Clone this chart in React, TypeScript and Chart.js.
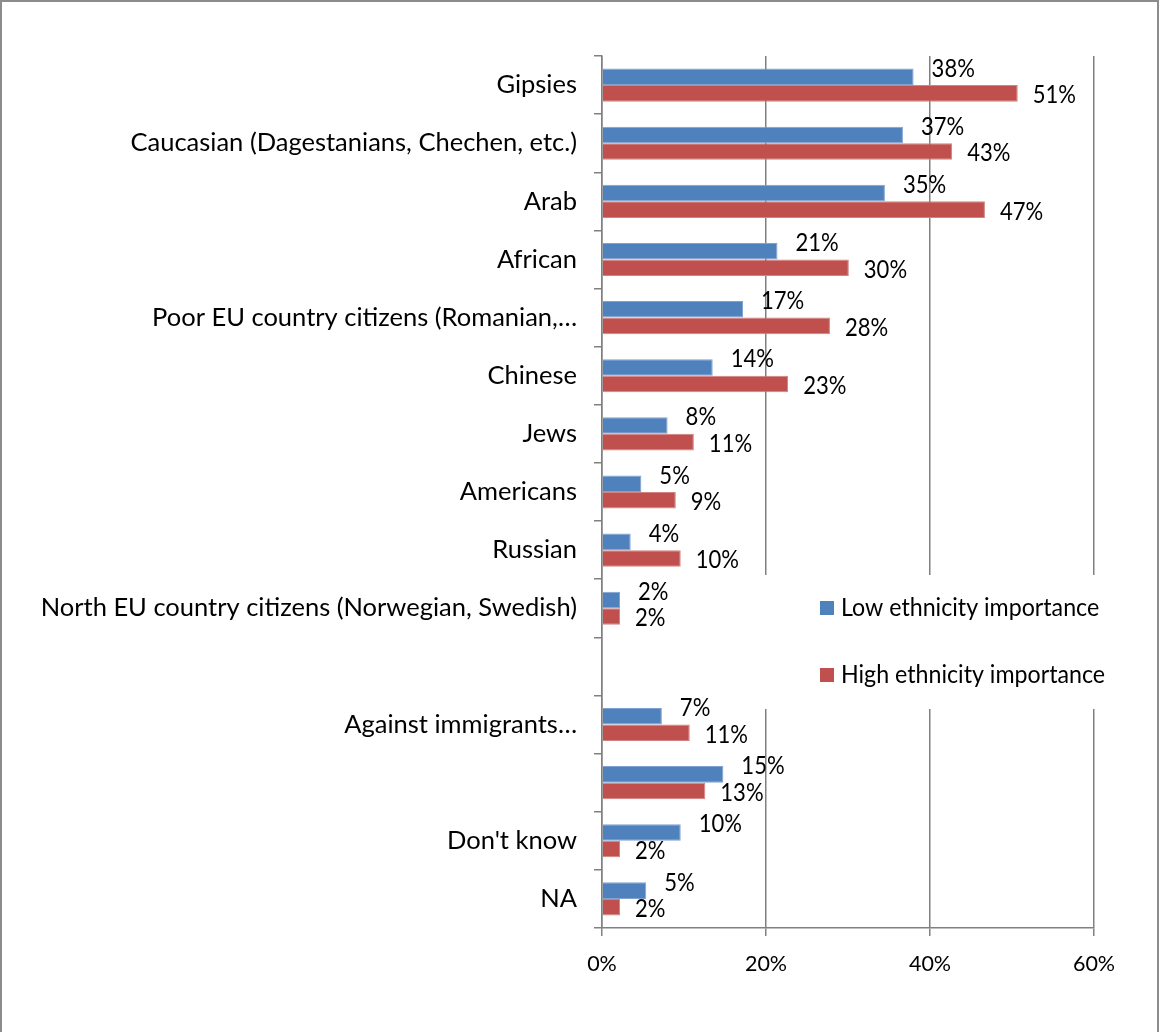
import React, { useEffect, useRef } from "react";
import { Chart, registerables } from "chart.js";

Chart.register(...registerables);

const categories = [
  "Gipsies",
  "Caucasian (Dagestanians, Chechen, etc.)",
  "Arab",
  "African",
  "Poor EU country citizens (Romanian,…",
  "Chinese",
  "Jews",
  "Americans",
  "Russian",
  "North EU country citizens (Norwegian, Swedish)",
  "",
  "Against immigrants…",
  "",
  "Don't know",
  "NA",
];

const lowImportance = [38.0, 36.7, 34.5, 21.4, 17.2, 13.5, 8.0, 4.8, 3.5, 2.2, null, 7.3, 14.8, 9.6, 5.4];
const highImportance = [50.7, 42.7, 46.7, 30.1, 27.8, 22.7, 11.2, 9.0, 9.6, 2.2, null, 10.7, 12.6, 2.2, 2.2];

const seriesNames = ["Low ethnicity importance", "High ethnicity importance"];
const seriesColors = ["#4F81BD", "#C0504D"];
const seriesBorders = ["#7FA2D0", "#D08381"];

const xTicks = [0, 20, 40, 60];

const FONT = "Lato, 'Open Sans', sans-serif";
const AXIS_GRAY = "#808080";

function narrowText(ctx: CanvasRenderingContext2D, text: string, x: number, y: number, sx: number) {
  ctx.save();
  ctx.translate(x, y);
  ctx.scale(sx, 1);
  ctx.fillText(text, 0, 0);
  ctx.restore();
}

export default function App() {
  const ref = useRef<HTMLCanvasElement | null>(null);

  useEffect(() => {
    document.body.style.margin = "0";
    const canvas = ref.current;
    if (!canvas) return;

    const labelPlugin = {
      id: "customDecor",
      beforeDatasetsDraw(chart: any) {
        const ctx = chart.ctx;
        ctx.save();
        ctx.fillStyle = "#ffffff";
        ctx.fillRect(700, 575, 420, 134);
        ctx.restore();
      },
      afterDatasetsDraw(chart: any) {
        const ctx = chart.ctx;
        ctx.save();
        ctx.font = `24.5px ${FONT}`;
        ctx.fillStyle = "#000000";
        ctx.textAlign = "left";
        ctx.textBaseline = "middle";
        chart.data.datasets.forEach((ds: any, di: number) => {
          const meta = chart.getDatasetMeta(di);
          meta.data.forEach((bar: any, i: number) => {
            const v = ds.data[i];
            if (v === null || v === undefined) return;
            const dx = di === 0 ? 18 : 15;
            const dy = di === 0 ? -8 : 2;
            narrowText(ctx, Math.round(v) + "%", bar.x + dx, bar.y + dy, 0.9);
          });
        });
        ctx.restore();
      },
      afterDraw(chart: any) {
        const ctx = chart.ctx;
        ctx.save();
        // legend
        ctx.font = `24.5px ${FONT}`;
        ctx.textAlign = "left";
        ctx.textBaseline = "middle";
        chart.data.datasets.forEach((ds: any, di: number) => {
          const y = 608 + di * 67;
          ctx.fillStyle = ds.backgroundColor;
          ctx.fillRect(820, y - 7, 14, 14);
          ctx.fillStyle = "#000000";
          narrowText(ctx, ds.label, 841, y, 0.947);
        });
        // outer border
        ctx.strokeStyle = "#8c8c8c";
        ctx.lineWidth = 2;
        ctx.strokeRect(1, 1, chart.width - 3, chart.height);
        ctx.restore();
      },
    };

    const chart = new Chart(canvas, {
      type: "bar",
      data: {
        labels: categories,
        datasets: [
          {
            label: seriesNames[0],
            data: lowImportance,
            backgroundColor: seriesColors[0],
            borderColor: seriesBorders[0],
            borderWidth: 1,
            categoryPercentage: 0.57,
            barPercentage: 1,
          },
          {
            label: seriesNames[1],
            data: highImportance,
            backgroundColor: seriesColors[1],
            borderColor: seriesBorders[1],
            borderWidth: 1,
            categoryPercentage: 0.57,
            barPercentage: 1,
          },
        ],
      },
      options: {
        indexAxis: "y",
        responsive: false,
        maintainAspectRatio: false,
        animation: false,
        layout: { padding: { top: 56, right: 66, left: 0, bottom: 0 } },
        plugins: {
          legend: { display: false },
          tooltip: { enabled: false },
        },
        scales: {
          x: {
            min: xTicks[0],
            max: xTicks[xTicks.length - 1],
            afterBuildTicks(scale: any) {
              scale.ticks = xTicks.map((v) => ({ value: v }));
            },
            afterFit(scale: any) {
              scale.height = 104;
            },
            grid: {
              color: AXIS_GRAY,
              lineWidth: 1.5,
              tickLength: 8,
              drawTicks: true,
            },
            border: { color: AXIS_GRAY, width: 1.5 },
            ticks: {
              padding: 15,
              color: "#000000",
              font: { family: FONT, size: 21.5 },
              maxRotation: 0,
              callback: (v: any) => v + "%",
            },
          },
          y: {
            afterFit(scale: any) {
              scale.width = 602;
            },
            grid: {
              display: true,
              drawOnChartArea: false,
              drawTicks: true,
              tickLength: 8,
              lineWidth: 1.5,
              color: AXIS_GRAY,
              offset: true,
            },
            border: { color: AXIS_GRAY, width: 1.5 },
            ticks: {
              padding: 17,
              color: "#000000",
              autoSkip: false,
              font: { family: FONT, size: 25.5 },
            },
          },
        },
      },
      plugins: [labelPlugin],
    });

    return () => chart.destroy();
  }, []);

  return <canvas ref={ref} width={1160} height={1032} style={{ display: "block" }} />;
}
